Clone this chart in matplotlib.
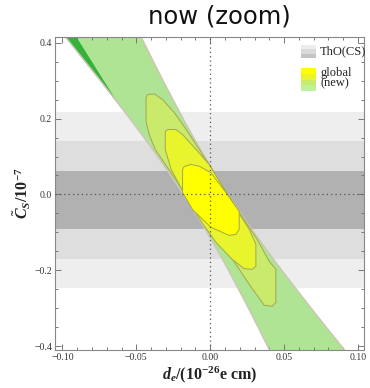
import matplotlib
matplotlib.use("Agg")
import matplotlib.pyplot as plt
from matplotlib.patches import Rectangle, Polygon
from matplotlib.ticker import MultipleLocator, FixedLocator

plt.rcParams['mathtext.fontset'] = 'custom'
plt.rcParams['mathtext.rm'] = 'Liberation Serif:bold'
plt.rcParams['mathtext.it'] = 'Liberation Serif:italic:bold'
plt.rcParams['mathtext.bf'] = 'Liberation Serif:bold'

# ThO(CS) bands: (upper, lower, colour)  light -> dark
tho_upper = [0.2166, 0.140, 0.063]
tho_lower = [-0.2456, -0.171, -0.092]
tho_colors = ['#eeeeee', '#dedede', '#b1b1b1']

# green (new) band edges
band_y = [0.415, 0.35, 0.30, 0.25, 0.20, 0.15, 0.10, 0.05, 0.00,
          -0.05, -0.10, -0.15, -0.20, -0.25, -0.30, -0.35, -0.415]
band_left = [-0.0979, -0.0845, -0.0743, -0.0643, -0.0544, -0.0448, -0.0355, -0.0266, -0.0180,
             -0.0099, -0.0021, 0.0053, 0.0124, 0.0192, 0.0259, 0.0324, 0.0407]
band_right = [-0.0467, -0.0384, -0.0319, -0.0252, -0.0184, -0.0113, -0.0039, 0.0039, 0.0120,
              0.0206, 0.0295, 0.0388, 0.0484, 0.0583, 0.0683, 0.0785, 0.0919]

# darker green sliver at top left
wedge_x = [-0.0979, -0.0905, -0.0623]
wedge_y = [0.415, 0.415, 0.24]

# global fit contours
outer_x = [-0.0434, -0.0434, -0.0424, -0.0378, -0.0322, -0.0243, -0.0176, -0.0007, 0.0162,
           0.0318, 0.0399, 0.0444, 0.0444, 0.0419, 0.0365, 0.0264, 0.0142, -0.0027,
           -0.0142, -0.0257, -0.0372, -0.0412]
outer_y = [0.1921, 0.2545, 0.2632, 0.2650, 0.2500, 0.2158, 0.1789, 0.0789, -0.0263,
           -0.1184, -0.1763, -0.1974, -0.2842, -0.2947, -0.2921, -0.2368, -0.1658, -0.0789,
           -0.0132, 0.0526, 0.1184, 0.1579]
middle_x = [-0.0304, -0.0304, -0.0289, -0.0232, -0.0187, -0.0095, -0.0007, 0.0088, 0.0182,
            0.0264, 0.0309, 0.0309, 0.0284, 0.0230, 0.0149, 0.0039, -0.0061, -0.0169, -0.0264]
middle_y = [0.1184, 0.1658, 0.1711, 0.1711, 0.1579, 0.1184, 0.0789, 0.0184, -0.0421,
            -0.0921, -0.1316, -0.1895, -0.1974, -0.1955, -0.1711, -0.1263, -0.0711, -0.0026, 0.0658]
inner_x = [-0.0187, -0.0187, -0.0176, -0.0130, -0.0074, 0.0005, 0.0101, 0.0196, 0.0196,
           0.0174, 0.0128, 0.0005, -0.0120]
inner_y = [0.0053, 0.0658, 0.0737, 0.0789, 0.0745, 0.0571, 0.0079, -0.0447, -0.0921,
           -0.1053, -0.1079, -0.0868, -0.0395]

x_ticks = [-0.10, -0.05, 0.00, 0.05, 0.10]
x_labels = ['\u22120.10', '\u22120.05', '0.00', '0.05', '0.10']
y_ticks = [-0.4, -0.2, 0.0, 0.2, 0.4]
y_labels = ['\u22120.4', '\u22120.2', '0.0', '0.2', '0.4']

c_band = '#aee494'
c_outer = '#c9ea6b'
c_middle = '#e9f52c'
c_inner = '#ffff00'
c_wedge = '#35b23a'

fig = plt.figure(figsize=(3.7, 3.88), dpi=100)
ax = fig.add_axes([0.1486, 0.098, 0.835, 0.8066])
ax.set_xlim(-0.105, 0.104)
ax.set_ylim(-0.41, 0.415)

# gray bands
for up, lo, col in zip(tho_upper, tho_lower, tho_colors):
    ax.axhspan(lo, up, color=col, lw=0, zorder=0)

# green band
ax.fill_betweenx(band_y, band_left, band_right, color=c_band, lw=0, zorder=1)
ax.add_patch(Polygon(list(zip(wedge_x, wedge_y)), closed=True, fc=c_wedge, ec='none', zorder=1.5))
for edge in (band_left, band_right):
    ax.plot(edge, band_y, color='#cdc7b4', lw=1.1, zorder=2)

# contours
for xs, ys, col, z in [(outer_x, outer_y, c_outer, 3), (middle_x, middle_y, c_middle, 4),
                       (inner_x, inner_y, c_inner, 5)]:
    ax.add_patch(Polygon(list(zip(xs, ys)), closed=True, fc=col, ec='#a3a652',
                         lw=0.7, zorder=z))

ax.axvline(0, color='#555555', ls=(0, (1, 2.5)), lw=0.9, zorder=6)
ax.axhline(0, color='#555555', ls=(0, (1, 2.5)), lw=0.9, zorder=6)

# ticks
ax.xaxis.set_major_locator(FixedLocator(x_ticks))
ax.yaxis.set_major_locator(FixedLocator(y_ticks))
ax.set_xticklabels(x_labels)
ax.set_yticklabels(y_labels)
ax.xaxis.set_minor_locator(MultipleLocator(0.01))
ax.yaxis.set_minor_locator(MultipleLocator(0.05))
ax.tick_params(which='both', direction='in', top=True, right=True, color='#777777', width=0.7)
ax.tick_params(which='major', length=4.5)
ax.tick_params(which='minor', length=2.5)
ax.tick_params(labelsize=7, labelcolor='#333333', pad=2)
for lab in ax.get_xticklabels() + ax.get_yticklabels():
    lab.set_family('Liberation Serif')
for sp in ax.spines.values():
    sp.set_color('#888888')
    sp.set_linewidth(0.8)

ax.set_xlabel(r'$d_e$/(10$^{-26}$e cm)', fontsize=11.5, family='Liberation Serif',
              fontweight='bold', labelpad=2, color='#222222')
ax.set_ylabel(r'$\tilde{C}_S/10^{-7}$', fontsize=11.5, family='Liberation Serif',
              fontweight='bold', labelpad=1, color='#222222')
fig.text(0.592, 0.958, 'now (zoom)', ha='center', va='center', fontsize=17.5,
         family='DejaVu Sans', color='#111111')

# legend drawn by hand
lx0, lw_ = 0.796, 0.049
tho_leg = ['#ececec', '#dadada', '#c4c4c4']
for i, col in enumerate(tho_leg):
    ax.add_patch(Rectangle((lx0, 0.974 - (i + 1) * 0.0137), lw_, 0.0137, transform=ax.transAxes,
                           fc=col, ec='none', zorder=8))
glob_leg = [c_inner, c_middle, c_outer, '#bdf29a']
for i, col in enumerate(glob_leg):
    ax.add_patch(Rectangle((lx0, 0.901 - (i + 1) * 0.0184), lw_, 0.0184, transform=ax.transAxes,
                           fc=col, ec='none', zorder=8))
ax.text(0.858, 0.953, 'ThO(CS)', transform=ax.transAxes, fontsize=9, va='center',
        family='Liberation Serif', color='#222222', zorder=9)
ax.text(0.858, 0.886, 'global', transform=ax.transAxes, fontsize=9, va='center',
        family='Liberation Serif', color='#222222', zorder=9)
ax.text(0.858, 0.852, '(new)', transform=ax.transAxes, fontsize=9, va='center',
        family='Liberation Serif', color='#222222', zorder=9)

fig.savefig('out.png', dpi=100)
